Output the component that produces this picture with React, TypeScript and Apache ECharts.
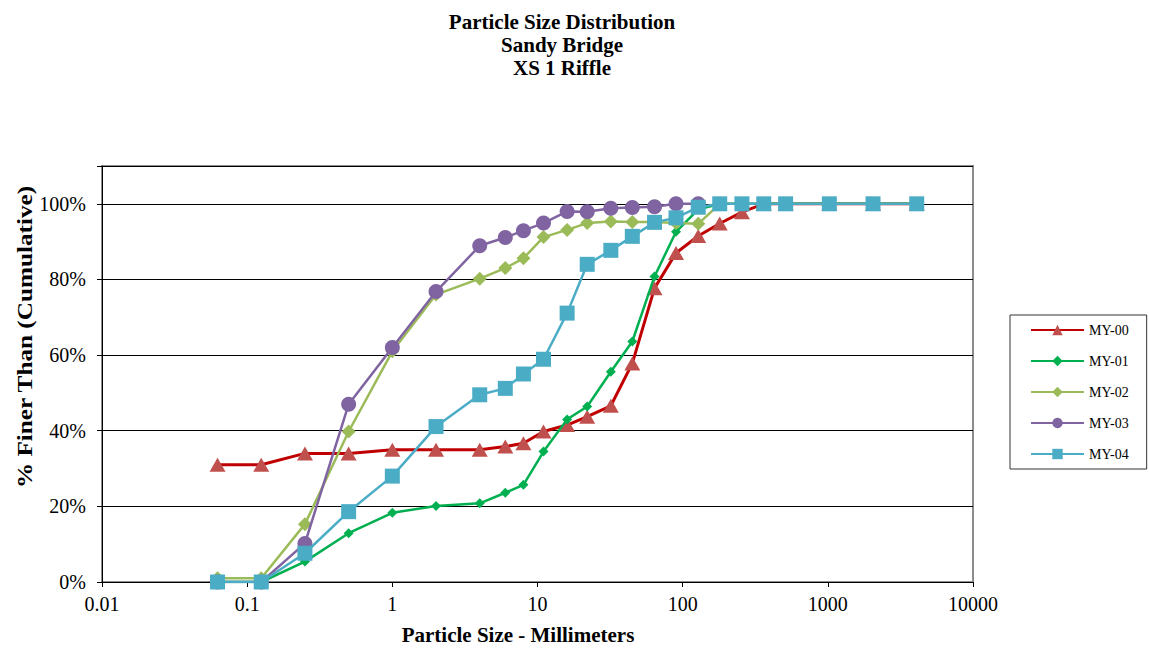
import React, { useEffect, useRef } from 'react';
import * as echarts from 'echarts';

const sizes = [0.0625, 0.125, 0.25, 0.5, 1, 2, 4, 6, 8, 11, 16, 22, 32, 45, 64, 90, 128, 180, 256, 362, 512, 1024, 2048, 4096];
const seriesNames = ['MY-00', 'MY-01', 'MY-02', 'MY-03', 'MY-04'];
const my00 = [31, 31, 34, 34, 35, 35, 35, 35.8, 36.7, 39.8, 41.5, 43.7, 46.6, 57.8, 77.7, 87, 91.5, 94.8, 97.8, 100, 100, 100, 100, 100];
const my01 = [0, 0, 5.4, 12.9, 18.3, 20.1, 20.8, 23.6, 25.7, 34.5, 43, 46.4, 55.6, 63.6, 80.8, 92.6, 98.5, 100, 100, 100, 100, 100, 100, 100];
const my02 = [1, 1, 15.3, 39.8, 61, 76, 80.2, 83, 85.6, 91.2, 93.1, 94.9, 95.3, 95.2, 95.2, 94.9, 94.7, 100, 100, 100, 100, 100, 100, 100];
const my03 = [0, 0, 10.2, 47, 62, 76.8, 88.9, 91.1, 92.9, 94.9, 98, 97.9, 98.8, 99, 99.2, 100, 100];
const my04 = [0, 0, 7.6, 18.6, 28, 41.1, 49.5, 51.2, 55, 58.9, 71.1, 84, 87.7, 91.4, 95.1, 96.3, 99.1, 100, 100, 100, 100, 100, 100, 100];
const xTickLabels = ['0.01', '0.1', '1', '10', '100', '1000', '10000'];
const yTickLabels = ['0%', '20%', '40%', '60%', '80%', '100%'];

const titleLines = ['Particle Size Distribution', 'Sandy Bridge', 'XS 1 Riffle'];
const xAxisTitle = 'Particle Size - Millimeters';
const yAxisTitle = '% Finer Than (Cumulative)';

const FONT = "'Liberation Serif', 'Times New Roman', serif";

const lineColors = ['#C00000', '#00B050', '#9BBB59', '#8064A2', '#4BACC6'];
const markColors = ['#C0504D', '#00B050', '#9BBB59', '#8064A2', '#4BACC6'];
const symbols = ['triangle', 'diamond', 'diamond', 'circle', 'rect'];
const symbolSizes: any[] = [[16, 14], 10, 14, 15, 15];
const lineWidths = [3, 2.5, 2.5, 2.5, 2.5];

export default function App() {
  const ref = useRef<HTMLDivElement>(null);
  useEffect(() => {
    const chart = echarts.init(ref.current!, null, { renderer: 'svg' });
    const allData = [my00, my01, my02, my03, my04];
    const series = allData.map((vals, i) => ({
      name: seriesNames[i],
      type: 'line',
      data: vals.map((v, j) => [sizes[j], v]),
      symbol: symbols[i],
      symbolSize: symbolSizes[i],
      showAllSymbol: true,
      lineStyle: { color: lineColors[i], width: lineWidths[i] },
      itemStyle: { color: markColors[i], borderWidth: 0 },
      emphasis: { disabled: true },
      z: 3 + i,
    }));
    chart.setOption({
      animation: false,
      backgroundColor: '#fff',
      textStyle: { fontFamily: FONT },
      title: {
        text: titleLines.join('\n'),
        left: 557,
        top: 5,
        textAlign: 'center',
        textStyle: { fontFamily: FONT, fontSize: 21, fontWeight: 'bold', lineHeight: 23, color: '#000' },
      },
      legend: {
        orient: 'vertical',
        left: 1010,
        top: 315,
        padding: [8, 18, 8, 20],
        itemWidth: 53,
        itemHeight: 13,
        itemGap: 17,
        borderColor: '#333',
        borderWidth: 1,
        textStyle: { fontFamily: FONT, fontSize: 14, color: '#000' },
        data: seriesNames,
      },
      grid: {
        left: 102,
        top: 166,
        width: 871,
        height: 416,
        show: true,
        borderColor: '#8c8c8c',
        borderWidth: 2,
        backgroundColor: 'transparent',
      },
      xAxis: {
        type: 'log',
        logBase: 10,
        min: 0.01,
        max: 10000,
        axisLine: { show: true, onZero: false, lineStyle: { color: '#000', width: 1 } },
        axisTick: { show: true, inside: false, length: 5, lineStyle: { color: '#000' } },
        splitLine: { show: false },
        minorTick: { show: false },
        axisLabel: {
          margin: 12,
          fontFamily: FONT,
          fontSize: 20,
          color: '#000',
          formatter: (v: number) => {
            const k = Math.round(Math.log10(v)) + 2;
            return xTickLabels[k] ?? '';
          },
        },
      },
      yAxis: {
        type: 'value',
        min: 0,
        max: 110,
        interval: 20,
        axisLine: { show: true, lineStyle: { color: '#000', width: 1 } },
        axisTick: { show: true, inside: false, length: 5, lineStyle: { color: '#000' } },
        splitLine: { show: true, lineStyle: { color: '#000', width: 1 } },
        axisLabel: {
          margin: 16,
          fontFamily: FONT,
          fontSize: 20,
          color: '#000',
          formatter: (v: number) => {
            const k = Math.round(v / 20);
            return v % 20 === 0 ? yTickLabels[k] ?? '' : '';
          },
        },
      },
      graphic: [
        {
          type: 'text',
          x: 25,
          y: 337,
          rotation: Math.PI / 2,
          scaleX: 1.2,
          style: {
            text: yAxisTitle,
            font: `bold 21px ${FONT}`,
            fill: '#000',
            align: 'center',
            verticalAlign: 'middle',
          },
        },
        {
          type: 'text',
          x: 518,
          y: 635,
          style: {
            text: xAxisTitle,
            font: `bold 21px ${FONT}`,
            fill: '#000',
            align: 'center',
            verticalAlign: 'middle',
          },
        },
      ],
      series,
    });
    return () => chart.dispose();
  }, []);
  return <div ref={ref} style={{ position: 'fixed', left: 0, top: 0, width: 1149, height: 650 }} />;
}
